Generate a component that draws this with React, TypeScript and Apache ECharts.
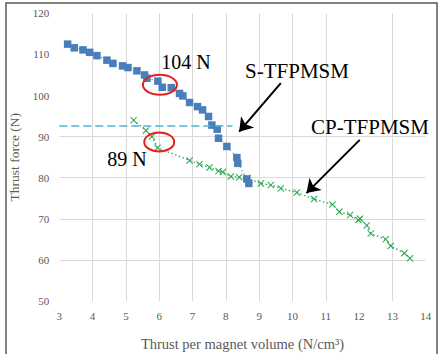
import React, { useEffect, useRef } from "react";
import * as echarts from "echarts";

// S-TFPMSM measurements
const sX = [3.25, 3.45, 3.71, 3.91, 4.13, 4.43, 4.61, 4.9, 5.06, 5.33, 5.56, 5.63, 5.96, 6.09, 6.36, 6.61, 6.71, 6.91, 7.15, 7.3, 7.48, 7.58, 7.74, 7.78, 8.03, 8.33, 8.36, 8.63, 8.69];
const sY = [112.5, 111.6, 111.1, 110.5, 109.7, 108.6, 107.8, 107.2, 106.8, 106.0, 105.0, 104.2, 103.5, 102.0, 101.9, 100.5, 99.9, 98.3, 97.3, 96.5, 94.9, 92.8, 91.8, 89.6, 87.6, 84.9, 83.5, 79.7, 78.6];

// CP-TFPMSM measurements
const cpX = [5.23, 5.6, 5.78, 5.95, 6.91, 7.21, 7.51, 7.78, 7.91, 8.15, 8.4, 8.65, 9.05, 9.35, 9.65, 10.13, 10.65, 11.2, 11.41, 11.73, 11.98, 12.03, 12.23, 12.35, 12.8, 12.95, 13.36, 13.53];
const cpY = [94.0, 91.5, 90.0, 87.3, 84.2, 83.3, 82.5, 81.6, 81.4, 80.3, 80.1, 79.9, 78.6, 78.2, 77.4, 76.4, 74.8, 73.5, 71.7, 70.9, 69.7, 70.0, 68.4, 66.4, 65.0, 63.4, 61.6, 60.4];

// Reference level and highlighted operating points
const refLevel = 92.7;
const refSpan = [3, 8.2];
const highlightS = [6.02, 102.6];
const highlightCP = [6.0, 88.7];

// Axis ranges
const xRange = [3, 14];
const yRange = [50, 120];

const SERIF = "Liberation Serif";
const BLUE = "#4a7ebb";
const GREEN = "#23a84a";
const GRID = "#d9d9d9";
const CROSS = "path://M0,1L1,0L5,4L9,0L10,1L6,5L10,9L9,10L5,6L1,10L0,9L4,5Z";

export default function App() {
  const ref = useRef<HTMLDivElement>(null);

  useEffect(() => {
    if (!ref.current) return;
    const chart = echarts.init(ref.current, null, { renderer: "svg" });

    const sData = sX.map((x, i) => [x, sY[i]]);
    const cpData = cpX.map((x, i) => [x, cpY[i]]);

    const option: any = {
      animation: false,
      backgroundColor: "#ffffff",
      grid: {
        left: 59.3,
        right: 15.3,
        top: 13.3,
        bottom: 53,
        containLabel: false,
        outerBoundsMode: "none",
      },
      xAxis: {
        type: "value",
        min: xRange[0],
        max: xRange[1],
        interval: 1,
        name: "Thrust per magnet volume (N/cm³)",
        nameLocation: "middle",
        nameGap: 35,
        nameTextStyle: { fontFamily: SERIF, fontSize: 14.5, color: "#595959" },
        axisLine: { show: false },
        axisTick: { show: false },
        axisLabel: { fontFamily: SERIF, fontSize: 11, color: "#595959", margin: 9 },
        splitLine: {
          show: true,
          lineStyle: {
            color: ["transparent", GRID, GRID, GRID, GRID, GRID, GRID, GRID, GRID, "transparent", GRID, "transparent"],
            width: 1,
          },
        },
      },
      yAxis: {
        type: "value",
        min: yRange[0],
        max: yRange[1],
        interval: 10,
        name: "Thrust force (N)",
        nameLocation: "middle",
        nameGap: 33,
        nameRotate: 90,
        nameTextStyle: { fontFamily: SERIF, fontSize: 13.5, color: "#595959" },
        axisLine: { show: false },
        axisTick: { show: false },
        axisLabel: { fontFamily: SERIF, fontSize: 11, color: "#595959", margin: 10 },
        splitLine: {
          show: true,
          lineStyle: {
            color: ["transparent", GRID, GRID, GRID, GRID, "transparent", "transparent", "transparent"],
            width: 1,
          },
        },
      },
      series: [
        {
          name: "CP-TFPMSM",
          type: "line",
          data: cpData,
          symbol: CROSS,
          symbolSize: 7,
          itemStyle: { color: GREEN },
          lineStyle: { color: GREEN, width: 1.3, type: [1.5, 2.5] },
          z: 3,
          markLine: {
            silent: true,
            animation: false,
            label: { show: false },
            symbol: ["none", "arrow"],
            symbolSize: 13,
            lineStyle: { color: "#000000", width: 2, type: "solid" },
            data: [
              [{ coord: [9.65, 103.0] }, { coord: [8.4, 91.2] }],
              [{ coord: [12.02, 89.2] }, { coord: [10.42, 76.25] }],
            ],
          },
        },
        {
          name: "S-TFPMSM",
          type: "line",
          data: sData,
          symbol: "rect",
          symbolSize: 7.5,
          itemStyle: { color: BLUE },
          lineStyle: { color: BLUE, width: 1, type: [1.5, 2.5] },
          z: 4,
          markLine: {
            silent: true,
            animation: false,
            label: { show: false },
            symbol: ["none", "none"],
            lineStyle: { color: "#4bb3d8", width: 1.6, type: [8, 4] },
            data: [[{ coord: [refSpan[0], refLevel] }, { coord: [refSpan[1], refLevel] }]],
          },
        },
      ],
    };

    chart.setOption(option);

    const pS = chart.convertToPixel({ gridIndex: 0 }, highlightS) as number[];
    const pCP = chart.convertToPixel({ gridIndex: 0 }, highlightCP) as number[];
    const annot = (text: string, x: number, y: number, size: number) => ({
      type: "text",
      x,
      y,
      z: 10,
      style: {
        text,
        fontFamily: SERIF,
        fontSize: size,
        fill: "#000000",
        align: "center",
        verticalAlign: "middle",
      },
    });

    chart.setOption({
      graphic: [
        {
          type: "rect",
          shape: { x: 6, y: 3, width: 431, height: 370 },
          style: { fill: "none", stroke: "#5a5a5a", lineWidth: 1.5 },
          z: 0,
          silent: true,
        },
        {
          type: "ellipse",
          shape: { cx: pS[0], cy: pS[1], rx: 17, ry: 10 },
          style: { fill: "none", stroke: "#e3201b", lineWidth: 2 },
          z: 10,
          silent: true,
        },
        {
          type: "ellipse",
          shape: { cx: pCP[0], cy: pCP[1], rx: 15, ry: 9.5 },
          style: { fill: "none", stroke: "#e3201b", lineWidth: 2 },
          z: 10,
          silent: true,
        },
        annot("104 N", 186, 62, 20),
        annot("89 N", 127, 159, 20),
        annot("S-TFPMSM", 297, 71, 21),
        annot("CP-TFPMSM", 370, 127, 21),
      ],
    });

    return () => chart.dispose();
  }, []);

  return (
    <div
      ref={ref}
      style={{ position: "fixed", left: 0, top: 0, width: 441, height: 354, background: "#ffffff" }}
    />
  );
}
